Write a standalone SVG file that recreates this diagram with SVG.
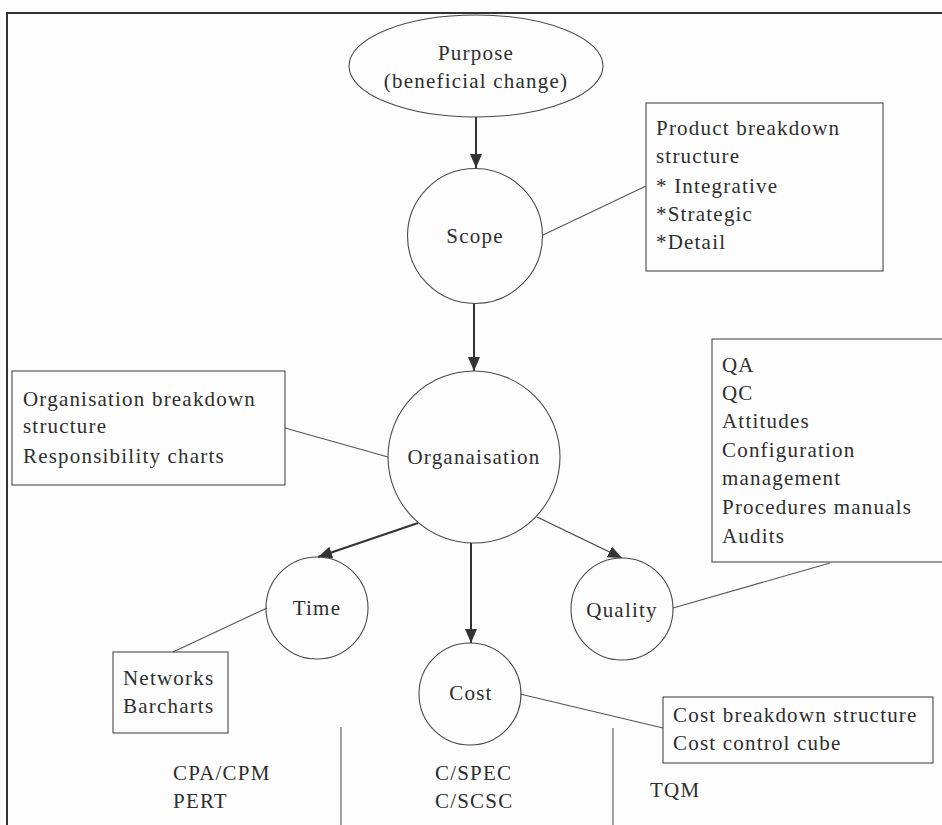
<svg xmlns="http://www.w3.org/2000/svg" width="942" height="825" viewBox="0 0 942 825">
  <style>
    text { font-family: "Liberation Serif", "Times New Roman", serif; font-size: 21px; letter-spacing: 1.2px; fill: #2e2e2e; }
    .mid { text-anchor: middle; }
    .shape { fill: none; stroke: #4a4a4a; stroke-width: 1.1; }
    .link { stroke: #555; stroke-width: 1.1; fill: none; }
    .arrow { stroke: #333; stroke-width: 2; fill: none; marker-end: url(#head); }
    .arrow-thin { stroke: #444; stroke-width: 1.3; fill: none; marker-end: url(#head); }
    .frame { stroke: #333; stroke-width: 2; fill: none; }
  </style>
  <defs>
    <marker id="head" markerUnits="userSpaceOnUse" markerWidth="14" markerHeight="12" viewBox="0 0 14 12" refX="14" refY="6" orient="auto">
      <path d="M0,0 L14,6 L0,12 Z" fill="#333"/>
    </marker>
  </defs>
  <rect width="942" height="825" fill="#fdfdfd"/>

  <!-- outer frame: top and left edges -->
  <path class="frame" d="M6,13 H942 M7,13 V825"/>

  <!-- connectors -->
  <g id="connectors">
    <line class="arrow" x1="476" y1="117" x2="476" y2="168"/>
    <line class="arrow" x1="474" y1="303" x2="474" y2="371"/>
    <line class="arrow" x1="418" y1="523" x2="318" y2="557"/>
    <line class="arrow" x1="471" y1="543" x2="471" y2="643"/>
    <line class="arrow-thin" x1="537" y1="517" x2="622" y2="558"/>
    <line class="link" x1="543" y1="235" x2="646" y2="186"/>
    <line class="link" x1="285" y1="428" x2="388" y2="457"/>
    <line class="link" x1="673" y1="608" x2="830" y2="563"/>
    <line class="link" x1="267" y1="608" x2="173" y2="652"/>
    <line class="link" x1="520" y1="694" x2="663" y2="728"/>
    <line class="link" x1="341" y1="727" x2="341" y2="825"/>
    <line class="link" x1="613" y1="728" x2="613" y2="825"/>
  </g>

  <g id="purpose">
    <ellipse class="shape" cx="476" cy="66" rx="127" ry="51"/>
    <text class="mid" x="476" y="60">Purpose</text>
    <text class="mid" x="476" y="88">(beneficial change)</text>
  </g>

  <g id="scope">
    <circle class="shape" cx="475" cy="236" r="67.5"/>
    <text class="mid" x="475" y="243">Scope</text>
  </g>

  <g id="product-breakdown">
    <rect class="shape" x="646" y="103" width="237" height="168"/>
    <text x="656" y="135">Product breakdown</text>
    <text x="656" y="163">structure</text>
    <text x="656" y="193">* Integrative</text>
    <text x="656" y="221">*Strategic</text>
    <text x="656" y="249">*Detail</text>
  </g>

  <g id="organisation">
    <circle class="shape" cx="474" cy="457" r="86"/>
    <text class="mid" x="474" y="464">Organaisation</text>
  </g>

  <g id="organisation-breakdown">
    <rect class="shape" x="12" y="371" width="273" height="114"/>
    <text x="23" y="406">Organisation breakdown</text>
    <text x="23" y="433">structure</text>
    <text x="23" y="463">Responsibility charts</text>
  </g>

  <g id="quality-tools">
    <rect class="shape" x="712" y="339" width="240" height="223"/>
    <text x="722" y="372">QA</text>
    <text x="722" y="400">QC</text>
    <text x="722" y="428">Attitudes</text>
    <text x="722" y="457">Configuration</text>
    <text x="722" y="485">management</text>
    <text x="722" y="514">Procedures manuals</text>
    <text x="722" y="543">Audits</text>
  </g>

  <g id="time">
    <circle class="shape" cx="317" cy="608" r="51"/>
    <text class="mid" x="317" y="615">Time</text>
  </g>

  <g id="cost">
    <circle class="shape" cx="470" cy="694" r="51"/>
    <text class="mid" x="471" y="700">Cost</text>
  </g>

  <g id="quality">
    <circle class="shape" cx="622" cy="609" r="51"/>
    <text class="mid" x="622" y="617">Quality</text>
  </g>

  <g id="time-tools">
    <rect class="shape" x="113" y="652" width="115" height="81"/>
    <text x="123" y="685">Networks</text>
    <text x="123" y="713">Barcharts</text>
  </g>

  <g id="cost-tools">
    <rect class="shape" x="663" y="697" width="270" height="66"/>
    <text x="673" y="722">Cost breakdown structure</text>
    <text x="673" y="750">Cost control cube</text>
  </g>

  <g id="techniques">
    <text x="173" y="780">CPA/CPM</text>
    <text x="173" y="808">PERT</text>
    <text x="435" y="780">C/SPEC</text>
    <text x="435" y="808">C/SCSC</text>
    <text x="650" y="797">TQM</text>
  </g>
</svg>
